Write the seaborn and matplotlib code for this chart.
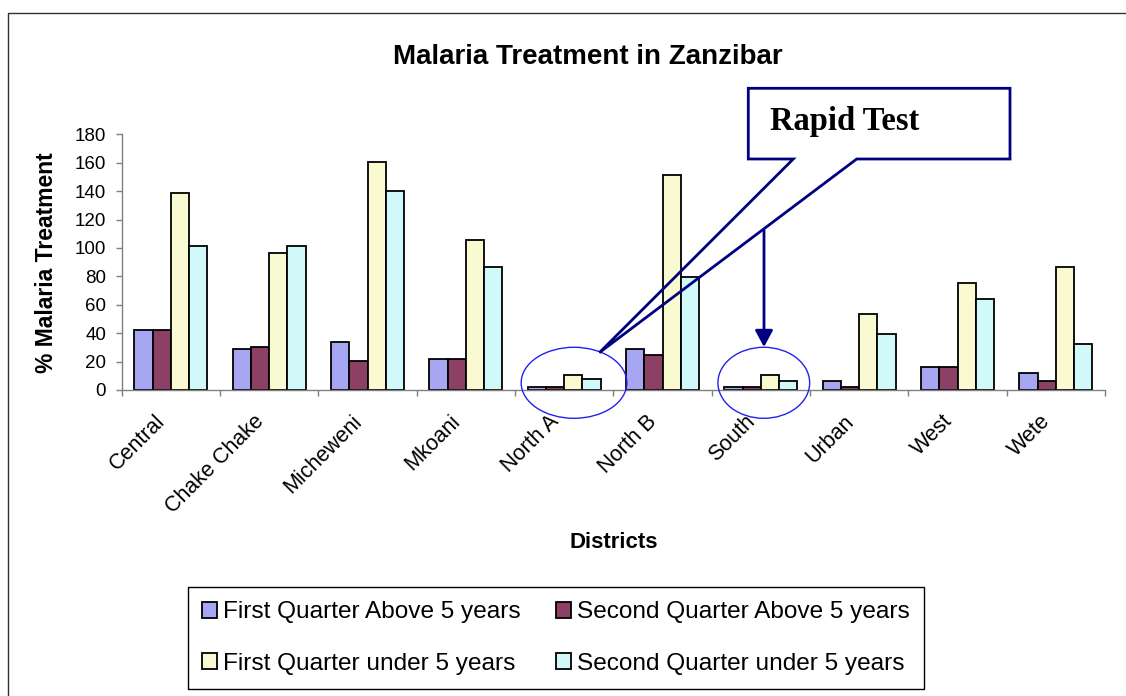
import numpy as np
import pandas as pd
import matplotlib
matplotlib.use("Agg")
import matplotlib.pyplot as plt
import matplotlib.transforms as mtransforms
from matplotlib.patches import Ellipse, Polygon, FancyArrowPatch
from matplotlib.lines import Line2D
import seaborn as sns

# ---------------- data ----------------
districts = ["Central", "Chake Chake", "Micheweni", "Mkoani", "North A",
             "North B", "South", "Urban", "West", "Wete"]
series_names = ["First Quarter Above 5 years", "Second Quarter Above 5 years",
                "First Quarter under 5 years", "Second Quarter under 5 years"]
first_q_above5 = [42, 28.6, 34, 21.6, 2.3, 28.6, 2.3, 6.3, 16, 11.7]
second_q_above5 = [42, 30, 20.4, 21.6, 2.3, 24.4, 2.3, 2.3, 16, 6.3]
first_q_under5 = [139, 96.2, 160.5, 105.6, 10.6, 151.2, 10.6, 53.5, 75.4, 86.4]
second_q_under5 = [101.4, 101.4, 140, 86.4, 7.7, 79.8, 6.3, 39.7, 64, 32.6]
yticks = [0, 20, 40, 60, 80, 100, 120, 140, 160, 180]
colors = ["#9999FF", "#993366", "#FFFFCC", "#CCFFFF"]

title = "Malaria Treatment in Zanzibar"
xlabel = "Districts"
ylabel = "% Malaria Treatment"
callout_text = "Rapid Test"

rows = []
for name, vals in zip(series_names, [first_q_above5, second_q_above5,
                                     first_q_under5, second_q_under5]):
    for d, v in zip(districts, vals):
        rows.append({"District": d, "Series": name, "Value": v})
df = pd.DataFrame(rows)

# ---------------- figure ----------------
W, H = 1126, 696
sns.set_style("white")
plt.rcParams["font.family"] = ["Liberation Sans", "DejaVu Sans"]
plt.rcParams["text.color"] = "black"
plt.rcParams["axes.labelcolor"] = "black"
plt.rcParams["xtick.color"] = "black"
plt.rcParams["ytick.color"] = "black"

fig = plt.figure(figsize=(W / 100, H / 100), dpi=100)
ax_left, ax_right, ax_top, ax_bot = 121.7, 1105, 134.3, 390
ax = fig.add_axes([ax_left / W, 1 - ax_bot / H, (ax_right - ax_left) / W,
                   (ax_bot - ax_top) / H])

sns.barplot(data=df, x="District", y="Value", hue="Series",
            palette=colors, width=0.74, edgecolor="black", linewidth=1.3,
            order=districts, hue_order=series_names, ax=ax, legend=True)

ax.set_xlim(-0.5, len(districts) - 0.5)
ax.set_ylim(0, 180)
ax.set_yticks(yticks)
ax.set_yticklabels([str(t) for t in yticks], fontsize=13.5)

for s in ["top", "right"]:
    ax.spines[s].set_visible(False)
for s in ["left", "bottom"]:
    ax.spines[s].set_color("#808080")
    ax.spines[s].set_linewidth(1.0)

ax.tick_params(axis="y", direction="out", length=4.3, width=1.0,
               color="#808080", labelcolor="black", pad=7, left=True)
# category labels (no marks) + boundary tick marks
ax.set_xticks(range(len(districts)))
ax.set_xticklabels(districts, fontsize=15.5, rotation=45, ha="right",
                   va="top", rotation_mode="anchor")
ax.tick_params(axis="x", which="major", length=0, pad=15, labelcolor="black")
ax.set_xticks(np.arange(-0.5, len(districts), 1.0), minor=True)
ax.tick_params(axis="x", which="minor", direction="out", length=4.3,
               width=1.0, color="#808080", bottom=True)
offset = mtransforms.ScaledTranslation(-0.16, 0, fig.dpi_scale_trans)
for lab in ax.get_xticklabels():
    lab.set_transform(lab.get_transform() + offset)

ax.set_xlabel(xlabel, fontsize=16, fontweight="bold", va="center")
ax.xaxis.set_label_coords(0.5, (ax_bot - 543) / (ax_bot - ax_top))
ax.set_ylabel(ylabel, fontsize=16.5, fontweight="bold")
ax.yaxis.label.set_verticalalignment("center")
ax.yaxis.set_label_coords((47 - ax_left) / (ax_right - ax_left), 0.5)

fig.text(587.6 / W, 1 - 64.3 / H, title, fontsize=20, fontweight="bold",
         ha="center", va="baseline")

# legend
handles, labels = ax.get_legend_handles_labels()
ax.get_legend().remove()
order = [0, 2, 1, 3]
leg = fig.legend([handles[i] for i in order], [labels[i] for i in order],
                 ncol=2, loc="upper left",
                 bbox_to_anchor=(187.7 / W, 1 - 586.7 / H), borderaxespad=0,
                 fontsize=17.6, frameon=True, fancybox=False, framealpha=1,
                 edgecolor="black", handlelength=0.6, handleheight=0.6,
                 handletextpad=0.25, columnspacing=1.45, labelspacing=1.2,
                 borderpad=0.6)
leg.get_frame().set_linewidth(1.0)

# pixel-space transform (origin top-left)
pix = mtransforms.Affine2D().scale(1, -1).translate(0, H)

# outer frame
fig.add_artist(Line2D([8, 8, W + 5], [H + 5, 13, 13], transform=pix,
                      color="#333333", linewidth=1.0))

# ellipses around the Rapid Test districts (data coordinates)
ia, isouth = districts.index("North A"), districts.index("South")
for cx, w in [(ia + 0.10, 1.075), (isouth + 0.03, 0.933)]:
    ax.add_patch(Ellipse((cx, 5.07), w, 50, fill=False, edgecolor="#2222EE",
                         linewidth=1.0, clip_on=False, zorder=5))

# callout box with wedge
navy = "#000080"
callout = [(748.3, 88.3), (1010, 88.3), (1010, 159), (856.7, 159),
           (599.3, 352.7), (793.3, 159), (748.3, 159)]
fig.add_artist(Polygon(callout, closed=True, transform=pix, fill=False,
                       edgecolor=navy, linewidth=2.0, joinstyle="miter"))
fig.text(770 / W, 1 - 130 / H, callout_text, fontsize=23.5,
         fontweight="bold", family=["Liberation Serif", "DejaVu Serif"],
         ha="left", va="baseline")
fig.add_artist(FancyArrowPatch((764, 230), (764, 347), transform=pix,
                               arrowstyle="-|>,head_length=10,head_width=5.4",
                               color=navy, linewidth=2.0, mutation_scale=1,
                               shrinkA=0, shrinkB=0))

fig.savefig("out.png", dpi=100)
